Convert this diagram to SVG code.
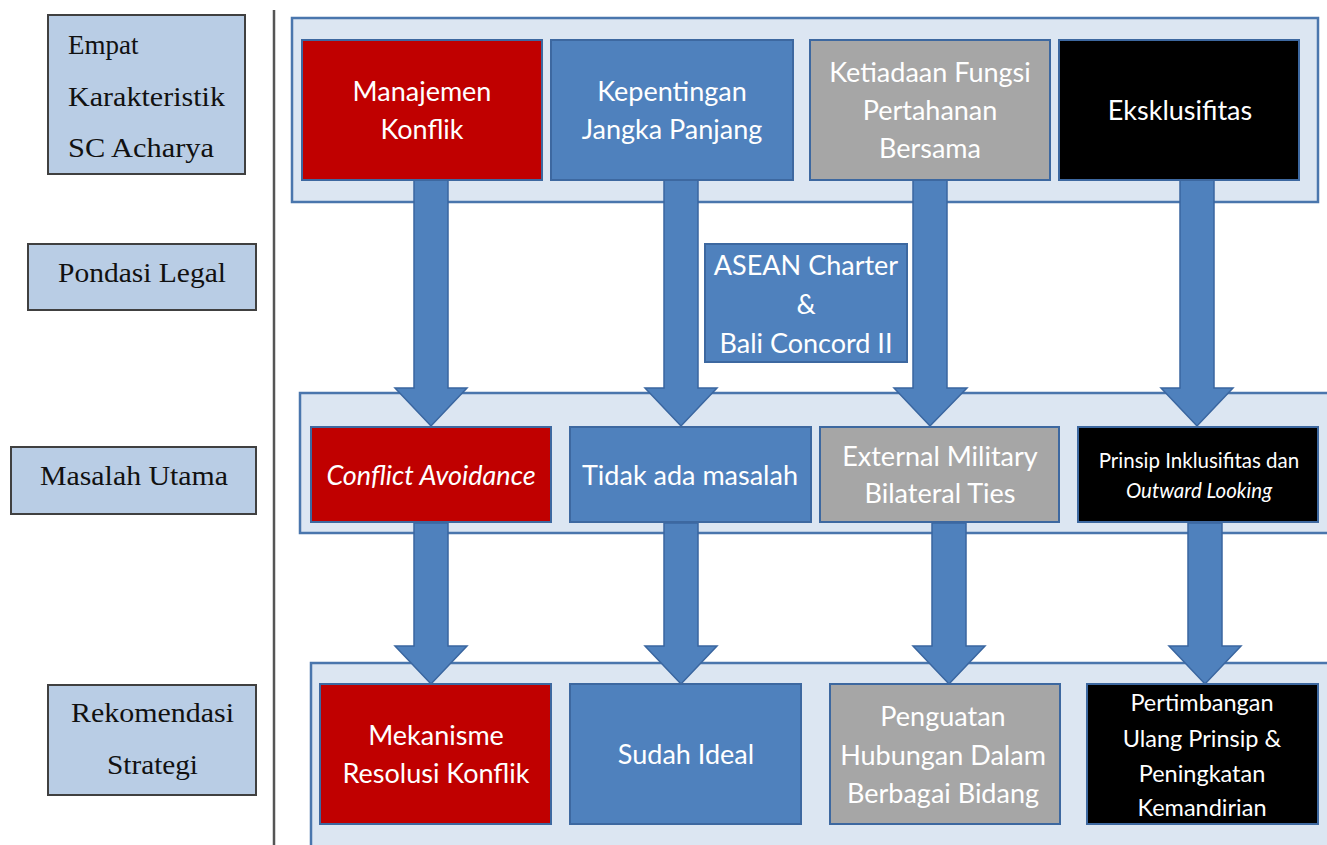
<svg xmlns="http://www.w3.org/2000/svg" width="1327" height="845" viewBox="0 0 1327 845">
<defs>
<style>
.lbl{fill:#b9cde5;stroke:#404040;stroke-width:2}
.lt{font-family:"Liberation Serif","Times New Roman",serif;font-size:27px;fill:#111111}
.cont{fill:#dce6f2;stroke:#4a76ad;stroke-width:2.5}
.box{stroke:#3d68a0;stroke-width:2}
.red{fill:#c00000}
.blue{fill:#4f81bd}
.gray{fill:#a6a6a6}
.blk{fill:#000000}
.t{font-family:"Lato","Liberation Sans",sans-serif;font-size:27px;fill:#ffffff;text-anchor:middle}
.arr{fill:#4f81bd;stroke:#3a66a0;stroke-width:1.5}
</style>
</defs>
<rect width="1327" height="845" fill="#ffffff"/>
<line x1="274" y1="10" x2="274" y2="845" stroke="#555" stroke-width="2.5"/>

<g id="label-empat">
<rect class="lbl" x="48" y="15" width="197" height="159"/>
<text class="lt" x="68" y="54">Empat</text>
<text class="lt" x="68" y="106" textLength="157" lengthAdjust="spacingAndGlyphs">Karakteristik</text>
<text class="lt" x="68" y="157" textLength="146" lengthAdjust="spacingAndGlyphs">SC Acharya</text>
</g>
<g id="label-pondasi">
<rect class="lbl" x="28" y="244" width="228" height="66"/>
<text class="lt" x="58" y="282" textLength="168" lengthAdjust="spacingAndGlyphs">Pondasi Legal</text>
</g>
<g id="label-masalah">
<rect class="lbl" x="11" y="447" width="245" height="67"/>
<text class="lt" x="40" y="485" textLength="188" lengthAdjust="spacingAndGlyphs">Masalah Utama</text>
</g>
<g id="label-rekomendasi">
<rect class="lbl" x="48" y="685" width="208" height="110"/>
<text class="lt" x="71" y="722" textLength="163" lengthAdjust="spacingAndGlyphs">Rekomendasi</text>
<text class="lt" x="107" y="774" textLength="91" lengthAdjust="spacingAndGlyphs">Strategi</text>
</g>

<g id="container-top"><rect class="cont" x="292" y="18" width="1026" height="184"/></g>
<g id="container-mid"><rect class="cont" x="300" y="393" width="1035" height="140"/></g>
<g id="container-bot"><rect class="cont" x="311" y="663" width="1025" height="190"/></g>

<g id="connectors">
<path class="arr" d="M414,180 H448 V388 H467 L431,426 L395,388 H414 Z"/>
<path class="arr" d="M664,180 H698 V388 H717 L681,426 L645,388 H664 Z"/>
<path class="arr" d="M913,180 H947 V388 H967 L930,426 L894,388 H913 Z"/>
<path class="arr" d="M1180,180 H1214 V388 H1233 L1197,426 L1161,388 H1180 Z"/>
<path class="arr" d="M414,523 H448 V646 H467 L431,684 L395,646 H414 Z"/>
<path class="arr" d="M664,523 H698 V646 H717 L681,684 L645,646 H664 Z"/>
<path class="arr" d="M932,523 H966 V646 H985 L949,684 L913,646 H932 Z"/>
<path class="arr" d="M1188,523 H1222 V646 H1241 L1205,684 L1169,646 H1188 Z"/>
</g>

<g id="top-manajemen">
<rect class="box red" x="302" y="40" width="240" height="140"/>
<text class="t" x="422" y="101">Manajemen</text>
<text class="t" x="422" y="139">Konflik</text>
</g>
<g id="top-kepentingan">
<rect class="box blue" x="551" y="40" width="242" height="140"/>
<text class="t" x="672" y="101">Kepentingan</text>
<text class="t" x="672" y="139">Jangka Panjang</text>
</g>
<g id="top-ketiadaan">
<rect class="box gray" x="810" y="40" width="240" height="140"/>
<text class="t" x="930" y="82">Ketiadaan Fungsi</text>
<text class="t" x="930" y="120">Pertahanan</text>
<text class="t" x="930" y="158">Bersama</text>
</g>
<g id="top-eksklusifitas">
<rect class="box blk" x="1059" y="40" width="240" height="140"/>
<text class="t" x="1180" y="120">Eksklusifitas</text>
</g>

<g id="asean">
<rect class="box blue" x="705" y="244" width="202" height="118"/>
<text class="t" x="806" y="275">ASEAN Charter</text>
<text class="t" x="806" y="314">&amp;</text>
<text class="t" x="806" y="353">Bali Concord II</text>
</g>

<g id="mid-conflict">
<rect class="box red" x="311" y="427" width="240" height="95"/>
<text class="t" x="431" y="485" font-style="italic">Conflict Avoidance</text>
</g>
<g id="mid-tidak">
<rect class="box blue" x="570" y="427" width="241" height="95"/>
<text class="t" x="690" y="485">Tidak ada masalah</text>
</g>
<g id="mid-external">
<rect class="box gray" x="820" y="427" width="239" height="95"/>
<text class="t" x="940" y="466">External Military</text>
<text class="t" x="940" y="503">Bilateral Ties</text>
</g>
<g id="mid-prinsip">
<rect class="box blk" x="1078" y="427" width="240" height="95"/>
<text class="t" x="1199" y="468" style="font-size:20.5px">Prinsip Inklusifitas dan</text>
<text class="t" x="1199" y="498" style="font-size:20.5px" font-style="italic">Outward Looking</text>
</g>

<g id="bot-mekanisme">
<rect class="box red" x="320" y="684" width="231" height="140"/>
<text class="t" x="436" y="745">Mekanisme</text>
<text class="t" x="436" y="783">Resolusi Konflik</text>
</g>
<g id="bot-sudah">
<rect class="box blue" x="570" y="684" width="231" height="140"/>
<text class="t" x="686" y="764">Sudah Ideal</text>
</g>
<g id="bot-penguatan">
<rect class="box gray" x="830" y="684" width="230" height="140"/>
<text class="t" x="943" y="726">Penguatan</text>
<text class="t" x="943" y="765">Hubungan Dalam</text>
<text class="t" x="943" y="803">Berbagai Bidang</text>
</g>
<g id="bot-pertimbangan">
<rect class="box blk" x="1087" y="684" width="231" height="140"/>
<text class="t" x="1202" y="711" style="font-size:23.5px">Pertimbangan</text>
<text class="t" x="1202" y="747" style="font-size:23.5px">Ulang Prinsip &amp;</text>
<text class="t" x="1202" y="782" style="font-size:23.5px">Peningkatan</text>
<text class="t" x="1202" y="816" style="font-size:23.5px">Kemandirian</text>
</g>
</svg>
